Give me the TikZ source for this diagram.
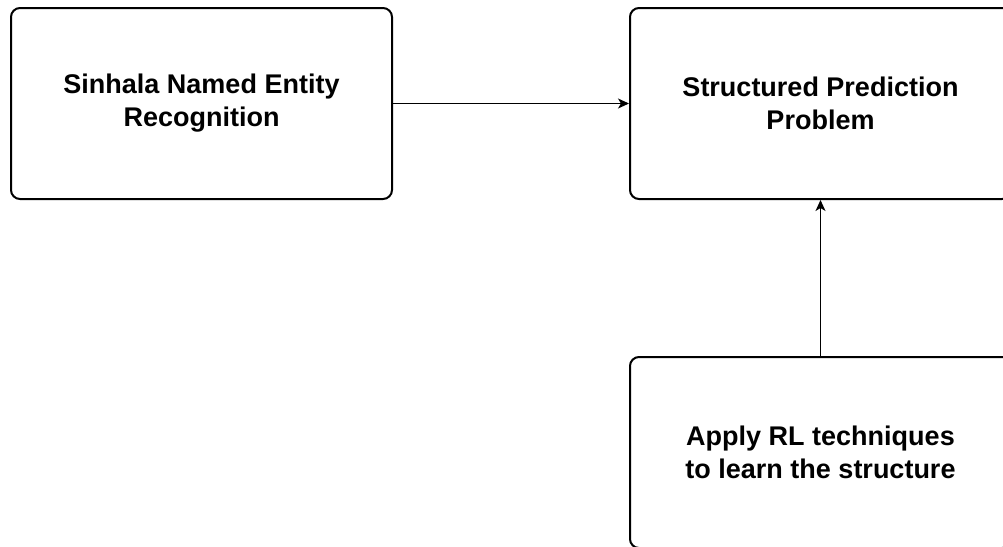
\documentclass[tikz,border=0pt]{standalone}
\usepackage{fontspec}
\setmainfont{Liberation Sans}
\usetikzlibrary{positioning, arrows.meta}

\begin{document}
\begin{tikzpicture}[x=1pt, y=-1pt, >= {Stealth[length=11pt, width=10pt, inset=3pt]}, line width=1.2pt,
		box/.style={draw, line width=2pt, rounded corners=9pt,
			minimum width=381pt, minimum height=191pt, align=center,
			font=\bfseries\fontsize{27}{33}\selectfont}]
	\useasboundingbox (0, 0) rectangle (1003, 546);
	\node[box] (ner) at (201.5, 103.5) {Sinhala Named Entity\\Recognition};
	\node[box] (spp) at (820.5, 103.5) {Structured Prediction\\Problem};
	\node[box] (rl) at (820.5, 452.5) {Apply RL techniques\\to learn the structure};

	\draw[->] (ner) -- (spp);
	\draw[->] (rl) -- (spp);
\end{tikzpicture}
\end{document}
